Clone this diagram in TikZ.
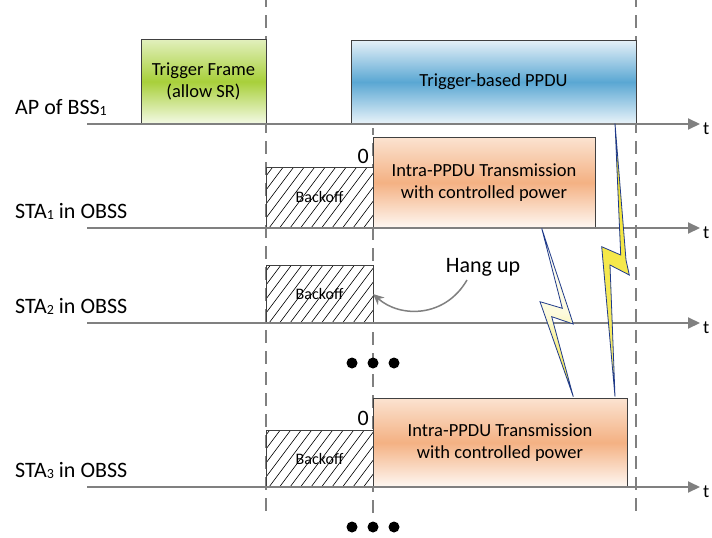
\documentclass[tikz,border=0pt]{standalone}
\usepackage{fontspec}
\setmainfont{Carlito}
\usetikzlibrary{arrows.meta}
\definecolor{axisgray}{HTML}{808080}
\definecolor{boxgray}{HTML}{404040}
\definecolor{gtop}{HTML}{E2F0BE}
\definecolor{gmid}{HTML}{A8D03A}
\definecolor{gbot}{HTML}{F4FAE6}
\definecolor{btop}{HTML}{E6F1F8}
\definecolor{bmid}{HTML}{5AA7D3}
\definecolor{bbot}{HTML}{EAF4FA}
\definecolor{otop}{HTML}{FBE3D1}
\definecolor{omid}{HTML}{F4B183}
\definecolor{obot}{HTML}{FEF8F3}
\definecolor{bolty}{HTML}{F2E21E}
\definecolor{boltline}{HTML}{1F3A8A}
\newcommand\bxfont{\fontsize{18.5}{22}\selectfont}
\newcommand\lbfont{\fontsize{22}{26}\selectfont}
\newcommand\bofont{\fontsize{16}{18}\selectfont}
\newcommand\sbone{\raisebox{-0.15ex}{\fontsize{14}{14}\selectfont 1}}
\newcommand\sbtwo{\raisebox{-0.15ex}{\fontsize{14}{14}\selectfont 2}}
\newcommand\sbthree{\raisebox{-0.15ex}{\fontsize{14}{14}\selectfont 3}}
\tikzset{
  axisline/.style={draw=axisgray, line width=2pt, -{Triangle[length=12pt,width=11pt]}},
  vdash/.style={draw=axisgray, line width=1.5pt, dash pattern=on 13pt off 8pt, dash phase=6pt},
  box/.style={draw=boxgray, line width=1pt, outer sep=0pt, inner sep=2pt, align=center, font=\bxfont, anchor=south west},
  greenbox/.style={box, top color=gtop, bottom color=gbot, middle color=gmid},
  bluebox/.style={box, top color=btop, bottom color=bbot, middle color=bmid},
  orangebox/.style={box, top color=otop, bottom color=obot, middle color=omid},
  backoff/.style={draw=boxgray, line width=0.8pt, fill=white, outer sep=0pt, anchor=south west,
    minimum width=107pt, font=\bofont,
    path picture={
      \foreach \k in {0,...,17}{
        \draw[black, line width=0.6pt] ([xshift=\k*10.5pt-60pt]path picture bounding box.south west) -- ++(60pt,80pt);
      }}},
  lbl/.style={anchor=base west, font=\lbfont, inner sep=0pt},
  tlbl/.style={anchor=west, font=\bxfont, inner sep=0pt},
  zlbl/.style={anchor=base east, font=\lbfont, inner sep=0pt},
  bolt/.style={draw=boltline, line width=0.8pt},
  dot/.style={fill=black},
  hangarrow/.style={draw=axisgray, line width=1.5pt, -{Stealth[length=11pt,width=10pt]}}
}
\begin{document}
\begin{tikzpicture}[x=1pt,y=-1pt]
\useasboundingbox (0,0) rectangle (712,538);

% dashed time markers
\draw[vdash] (266,0) -- (266,515);
\draw[vdash] (373,128) -- (373,515);
\draw[vdash] (636,0) -- (636,515);

% AP of BSS1
\node[greenbox, minimum width=125pt, minimum height=85pt] (tf) at (141,124) {Trigger Frame\\(allow SR)};
\node[bluebox, minimum width=285pt, minimum height=84pt] (tb) at (351,124) {Trigger-based PPDU};

% STA1
\node[backoff, minimum height=61pt] (bo1) at (266,228) {Backoff};
\node[orangebox, minimum width=222pt, minimum height=91pt] (ip1) at (373,228) {Intra-PPDU Transmission\\with controlled power};
\node[zlbl] (z1) at (369,163) {0};

% STA2
\node[backoff, minimum height=58pt] (bo2) at (266,323) {Backoff};

% STA3
\node[backoff, minimum height=57pt] (bo3) at (266,487) {Backoff};
\node[orangebox, minimum width=254pt, minimum height=89pt] (ip3) at (373,487) {Intra-PPDU Transmission\\with controlled power};
\node[zlbl] (z3) at (369,425) {0};

% axes
\draw[axisline] (87,124) -- (700,124);
\draw[axisline] (87,228) -- (700,228);
\draw[axisline] (87,323) -- (700,323);
\draw[axisline] (87,487) -- (700,487);
\node[tlbl] (t0) at (703,129) {t};
\node[tlbl] (t1) at (703,233) {t};
\node[tlbl] (t2) at (703,328) {t};
\node[tlbl] (t3) at (703,492) {t};

% labels
\node[lbl] (l0) at (15,114) {AP of BSS\sbone};
\node[lbl] (l1) at (15,218) {STA\sbone{} in OBSS};
\node[lbl] (l2) at (15,313) {STA\sbtwo{} in OBSS};
\node[lbl] (l3) at (15,477) {STA\sbthree{} in OBSS};

% lightning bolts
\path[bolt, top color=bolty, bottom color=bolty!60!white]
  (615,123.3) -- (626,260) -- (629.3,275) -- (610,265) -- (615,396.7) -- (601.7,246.7) -- (620.7,255) -- cycle;
\path[bolt, top color=white, bottom color=bolty, middle color=white!85!bolty]
  (541.7,228.3) -- (573.3,324) -- (551.7,316.7) -- (573.3,396.7) -- (540,301.7) -- (562.3,308.3) -- cycle;

% hang up
\node[font=\lbfont, inner sep=1pt] (hang) at (483,267) {Hang up};
\coordinate (hs) at (467,280);
\draw[hangarrow] (hs) .. controls (445,318) and (400,318) .. (bo2.east);

% dots
\foreach \xx/\nm in {352/a,373/b,394/c}{
  \fill[dot] (\xx,363) circle (5.5pt);
  \fill[dot] (\xx,527) circle (5.5pt);
}
\end{tikzpicture}
\end{document}
